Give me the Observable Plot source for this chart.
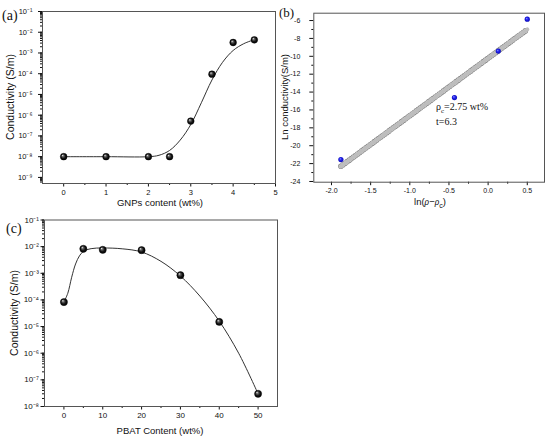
<!DOCTYPE html>
<html><head><meta charset="utf-8">
<script src="https://cdn.jsdelivr.net/npm/d3@7"></script>
<script src="https://cdn.jsdelivr.net/npm/@observablehq/plot@0.6"></script>
<style>
body{margin:0;background:#fff;}
#wrap{position:relative;width:550px;height:438px;overflow:hidden;font-family:"Liberation Sans",Arial,sans-serif;background:#fff;}
.p{position:absolute;}
.lbl{position:absolute;white-space:nowrap;line-height:1;transform:translate(-50%,-50%);color:#111;}
.ylbl{transform:translate(-50%,-50%) rotate(-90deg);}
.left{transform:translate(0,-50%);}
.serif{font-family:"Liberation Serif","Times New Roman",serif;}
</style></head><body>
<svg width="0" height="0" style="position:absolute"><defs>
<radialGradient id="sphere" cx="0.5" cy="0.5" r="0.5" fx="0.33" fy="0.3">
<stop offset="0" stop-color="#f2f2f2"/><stop offset="0.28" stop-color="#666"/><stop offset="0.65" stop-color="#151515"/><stop offset="1" stop-color="#000"/>
</radialGradient>
<radialGradient id="bsphere" cx="0.5" cy="0.5" r="0.5" fx="0.35" fy="0.32">
<stop offset="0" stop-color="#8c8cff"/><stop offset="0.45" stop-color="#2424f0"/><stop offset="1" stop-color="#0a0ab8"/>
</radialGradient>
</defs></svg>
<div id="wrap">
  <div class="p" id="pa" style="left:0;top:0"></div>
  <div class="p" id="pb" style="left:280px;top:0"></div>
  <div class="p" id="pc" style="left:0;top:210px"></div>

  <div class="lbl serif left" style="left:2px;top:16px;font-size:14px">(a)</div>
  <div class="lbl ylbl" style="left:10px;top:97px;font-size:10.5px">Conductivity (S/m)</div>
  <div class="lbl" style="left:160px;top:203px;font-size:9.5px">GNPs content (wt%)</div>

  <div class="lbl serif left" style="left:279px;top:12px;font-size:13px">(b)</div>
  <div class="lbl ylbl" style="left:284.8px;top:97px;font-size:9.5px">Ln conductivity(S/m)</div>
  <div class="lbl" style="left:430px;top:203px;font-size:9.5px">ln(<span class="serif" style="font-style:italic">ρ</span>−<span class="serif" style="font-style:italic">ρ</span><sub style="font-size:7px">c</sub>)</div>
  <div class="lbl serif left" style="left:436px;top:108px;font-size:10px">ρ<sub style="font-size:7px">c</sub>=2.75 wt%</div>
  <div class="lbl serif left" style="left:436px;top:122px;font-size:10px">t=6.3</div>

  <div class="lbl serif left" style="left:6px;top:229px;font-size:14px">(c)</div>
  <div class="lbl ylbl" style="left:14px;top:313px;font-size:10.5px">Conductivity (S/m)</div>
  <div class="lbl" style="left:160px;top:431px;font-size:9.5px">PBAT Content (wt%)</div>
</div>
<script>
// ---------- Panel (a): conductivity vs GNPs content ----------
const gnpContent      = [0, 1, 2, 2.5, 3, 3.5, 4, 4.5];
const gnpConductivity = [1e-8, 1e-8, 1e-8, 1e-8, 5.2e-7, 9.5e-5, 3.2e-3, 4.3e-3];
// fitted curve
const gnpFitX = [0, 1, 2, 2.25, 2.5, 2.75, 3, 3.25, 3.5, 3.75, 4, 4.25, 4.5];
const gnpFitY = [1e-8, 1e-8, 1.0e-8, 1.17e-8, 2.0e-8, 6.3e-8, 3.55e-7, 4.0e-6, 5.0e-5, 3.55e-4, 1.32e-3, 2.8e-3, 4.4e-3];
const gnpXTicks = [0, 1, 2, 3, 4, 5];
const gnpXMinor = [0.5, 1.5, 2.5, 3.5, 4.5];
const condTicksA = [1e-9, 1e-8, 1e-7, 1e-6, 1e-5, 1e-4, 1e-3, 1e-2, 1e-1];

// ---------- Panel (b): ln conductivity vs ln(rho - rho_c) ----------
const lnRho   = [-1.88, -0.43, 0.13, 0.5];
const lnSigma = [-21.55, -14.62, -9.42, -5.85];
const fitLnX  = [-1.88, 0.5];
const fitLnY  = [-22.3, -7.0];
const lnXTicks = [-2.0, -1.5, -1.0, -0.5, 0.0, 0.5];
const lnXMinor = [-1.75, -1.25, -0.75, -0.25, 0.25];
const lnYTicks = [-24, -22, -20, -18, -16, -14, -12, -10, -8, -6];
const lnYMinor = [-23, -21, -19, -17, -15, -13, -11, -9, -7];

// ---------- Panel (c): conductivity vs PBAT content ----------
const pbatContent      = [0, 5, 10, 20, 30, 40, 50];
const pbatConductivity = [8.3e-5, 8.3e-3, 7.6e-3, 7.4e-3, 8.5e-4, 1.5e-5, 3.0e-8];
const pbatFitX = [0, 1, 2, 3, 4, 5, 7, 10, 15, 20, 25, 30, 35, 40, 45, 50];
const pbatFitY = [8.3e-5, 1.78e-4, 7.1e-4, 2.24e-3, 4.5e-3, 6.6e-3, 8.4e-3, 8.9e-3, 8.3e-3, 6.3e-3, 2.8e-3, 7.9e-4, 1.4e-4, 1.6e-5, 1e-6, 3.0e-8];
const pbatXTicks = [0, 10, 20, 30, 40, 50];
const pbatXMinor = [5, 15, 25, 35, 45];
const condTicksC = [1e-8, 1e-7, 1e-6, 1e-5, 1e-4, 1e-3, 1e-2, 1e-1];

const sup = {"-":"⁻","0":"⁰","1":"¹","2":"²","3":"³","4":"⁴","5":"⁵","6":"⁶","7":"⁷","8":"⁸","9":"⁹"};
const pow10 = d => "10" + String(Math.round(Math.log10(d))).split("").map(c => sup[c]).join("");
const none = () => "";
const zip = (xs, ys) => xs.map((x, i) => ({x, y: ys[i]}));

const baseStyle = {fontFamily: '"Liberation Sans", Arial, sans-serif', background: "transparent", overflow: "visible", color: "#111"};

// (a)
const plotA = Plot.plot({
  width: 280, height: 215,
  marginLeft: 42, marginRight: 5, marginTop: 11, marginBottom: 32,
  x: {domain: [-0.5, 5]},
  y: {type: "log", domain: [5.1e-10, 0.1]},
  style: {...baseStyle, fontSize: "7.5px"},
  marks: [
    Plot.axisX({ticks: gnpXMinor, tickSize: 2, tickFormat: none, label: null}),
    Plot.axisX({ticks: gnpXTicks, tickSize: 3.5, tickPadding: 2.5, tickFormat: d => String(d), label: null}),
    Plot.axisY({ticks: 40, tickSize: 2, tickFormat: none, label: null}),
    Plot.axisY({ticks: condTicksA, tickSize: 4, tickPadding: 6, tickFormat: pow10, label: null}),
    Plot.frame({stroke: "#555", strokeWidth: 1}),
    Plot.line(zip(gnpFitX, gnpFitY), {x: "x", y: "y", curve: "catmull-rom", stroke: "#333", strokeWidth: 1}),
    Plot.dot(zip(gnpContent, gnpConductivity), {x: "x", y: "y", r: 3.4, fill: "url(#sphere)", stroke: "#000", strokeWidth: 0.4})
  ]
});
document.getElementById("pa").appendChild(plotA);

// (b)
const fitPts = zip(fitLnX, fitLnY);
const plotB = Plot.plot({
  width: 270, height: 215,
  marginLeft: 33.3, marginRight: 6, marginTop: 12.7, marginBottom: 33.3,
  x: {domain: [-2.226, 0.72]},
  y: {domain: [-24.08, -5.18]},
  style: {...baseStyle, fontSize: "7px"},
  marks: [
    Plot.axisX({ticks: lnXMinor, tickSize: 2, tickFormat: none, label: null}),
    Plot.axisX({ticks: lnXTicks, tickSize: 3.5, tickPadding: 2.5, tickFormat: d => d.toFixed(1), label: null}),
    Plot.axisY({ticks: lnYMinor, tickSize: 2, tickFormat: none, label: null}),
    Plot.axisY({ticks: lnYTicks, tickSize: 4, tickPadding: 9.5, tickFormat: d => String(d), label: null}),
    Plot.frame({stroke: "#555", strokeWidth: 1}),
    // band of open circles (fit line)
    Plot.line(fitPts, {x: "x", y: "y", stroke: "#8a8a8a", strokeWidth: 5.6, strokeDasharray: "0 2.6", strokeLinecap: "round"}),
    Plot.line(fitPts, {x: "x", y: "y", stroke: "#fff", strokeWidth: 3.8, strokeDasharray: "0 2.6", strokeLinecap: "round"}),
    Plot.line(fitPts, {x: "x", y: "y", stroke: "#bdbdbd", strokeWidth: 4.0, strokeDasharray: "0.6 2.0", strokeDashoffset: 0.5}),
    Plot.dot(zip(lnRho, lnSigma), {x: "x", y: "y", r: 2.6, fill: "url(#bsphere)"})
  ]
});
document.getElementById("pb").appendChild(plotB);

// (c)
const plotC = Plot.plot({
  width: 280, height: 228,
  marginLeft: 44, marginRight: 3, marginTop: 9.5, marginBottom: 32,
  x: {domain: [-5, 55]},
  y: {type: "log", domain: [1e-8, 1e-1]},
  style: {...baseStyle, fontSize: "8px"},
  marks: [
    Plot.axisX({ticks: pbatXMinor, tickSize: 2, tickFormat: none, label: null}),
    Plot.axisX({ticks: pbatXTicks, tickSize: 3.5, tickPadding: 2.5, tickFormat: d => String(d), label: null}),
    Plot.axisY({ticks: 40, tickSize: 2, tickFormat: none, label: null}),
    Plot.axisY({ticks: condTicksC, tickSize: 3.5, tickPadding: 2, tickFormat: pow10, label: null}),
    Plot.frame({stroke: "#555", strokeWidth: 1}),
    Plot.line(zip(pbatFitX, pbatFitY), {x: "x", y: "y", curve: "catmull-rom", stroke: "#333", strokeWidth: 1}),
    Plot.dot(zip(pbatContent, pbatConductivity), {x: "x", y: "y", r: 3.6, fill: "url(#sphere)", stroke: "#000", strokeWidth: 0.4})
  ]
});
document.getElementById("pc").appendChild(plotC);
</script>
</body></html>
